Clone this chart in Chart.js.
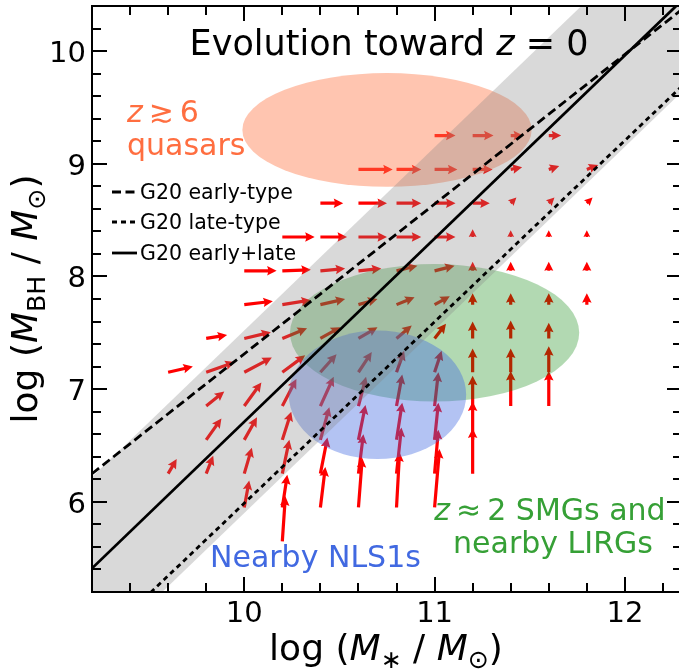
<!DOCTYPE html>
<html lang="en">
<head>
    <meta charset="UTF-8">
    <title>BH mass vs stellar mass evolution</title>
    <script src="https://cdn.jsdelivr.net/npm/chart.js"></script>
    <style>
        html, body { margin: 0; padding: 0; background: #fff; overflow: hidden; }
        #chart { display: block; }
    </style>
</head>
<body>
    <canvas id="chart" width="684" height="671"></canvas>

    <script>
        // axis ranges and ticks
        const xRange = [9.2, 12.3];
        const yRange = [5.2, 10.4];
        const xMajor = [10, 11, 12];
        const yMajor = [6, 7, 8, 9, 10];
        const xMinor = [9.4, 9.6, 9.8, 10.2, 10.4, 10.6, 10.8, 11.2, 11.4, 11.6, 11.8, 12.2];
        const yMinor = [5.4, 5.6, 5.8, 6.2, 6.4, 6.6, 6.8, 7.2, 7.4, 7.6, 7.8, 8.2, 8.4, 8.6, 8.8, 9.2, 9.4, 9.6, 9.8, 10.2];

        // G20 relations (end points) and the scatter band around early+late
        const lineX = [9.2, 12.3];
        const earlyY = [6.25, 10.37];
        const lateY = [4.70, 9.69];
        const allY = [5.41, 10.45];
        const bandUpper = [6.22, 11.26];
        const bandLower = [4.60, 9.64];

        // regions: centre x, centre y, half width, half height
        const regionNames = ['quasars', 'smgs', 'nls1'];
        const regionCx = [10.75, 11.0, 10.7];
        const regionCy = [9.3, 7.5, 6.95];
        const regionRx = [0.76, 0.76, 0.466];
        const regionRy = [0.505, 0.61, 0.57];
        const regionFill = ['rgba(255,127,80,0.45)', 'rgba(0,128,0,0.3)', 'rgba(65,105,225,0.4)'];

        // evolution vectors: tail position (x, y) and step (u, v)
        const arrowX = [
            10.2,
            10.0, 10.2, 10.4, 10.6, 10.8, 11.0,
            9.6, 9.8, 10.0, 10.2, 10.4, 10.6, 10.8, 11.0, 11.2,
            9.8, 10.0, 10.2, 10.4, 10.6, 10.8, 11.0, 11.2,
            9.8, 10.0, 10.2, 10.4, 10.6, 10.8, 11.0, 11.2, 11.4, 11.6,
            9.6, 9.8, 10.0, 10.2, 10.4, 10.6, 10.8, 11.0, 11.2, 11.4, 11.6,
            9.8, 10.0, 10.2, 10.4, 10.6, 10.8, 11.0, 11.2, 11.4, 11.6,
            10.0, 10.2, 10.4, 10.6, 10.8, 11.0, 11.2, 11.4, 11.6, 11.8,
            10.0, 10.2, 10.4, 10.6, 10.8, 11.0, 11.2, 11.4, 11.6, 11.8,
            10.2, 10.4, 10.6, 10.8, 11.0, 11.2, 11.4, 11.6, 11.8,
            10.4, 10.6, 10.8, 11.0, 11.2, 11.4, 11.6, 11.8,
            10.6, 10.8, 11.0, 11.2, 11.4, 11.6, 11.8,
            11.0, 11.2, 11.4, 11.6
        ];
        const arrowY = [
            5.65,
            5.95, 5.95, 5.95, 5.95, 5.95, 5.95,
            6.25, 6.25, 6.25, 6.25, 6.25, 6.25, 6.25, 6.25, 6.25,
            6.55, 6.55, 6.55, 6.55, 6.55, 6.55, 6.55, 6.55,
            6.85, 6.85, 6.85, 6.85, 6.85, 6.85, 6.85, 6.85, 6.85, 6.85,
            7.15, 7.15, 7.15, 7.15, 7.15, 7.15, 7.15, 7.15, 7.15, 7.15, 7.15,
            7.45, 7.45, 7.45, 7.45, 7.45, 7.45, 7.45, 7.45, 7.45, 7.45,
            7.75, 7.75, 7.75, 7.75, 7.75, 7.75, 7.75, 7.75, 7.75, 7.75,
            8.05, 8.05, 8.05, 8.05, 8.05, 8.05, 8.05, 8.05, 8.05, 8.05,
            8.35, 8.35, 8.35, 8.35, 8.35, 8.35, 8.35, 8.35, 8.35,
            8.65, 8.65, 8.65, 8.65, 8.65, 8.65, 8.65, 8.65,
            8.95, 8.95, 8.95, 8.95, 8.95, 8.95, 8.95,
            9.25, 9.25, 9.25, 9.25
        ];
        const arrowU = [
            0.016,
            0.026, 0.026, 0.026, 0.02, 0.016, 0.026,
            0.045, 0.037, 0.04, 0.037, 0.037, 0.026, 0.026, 0.02, 0,
            0.08, 0.067, 0.047, 0.047, 0.037, 0.03, 0.02, 0,
            0.095, 0.09, 0.074, 0.07, 0.04, 0.03, 0.02, 0, 0, 0,
            0.13, 0.15, 0.145, 0.12, 0.085, 0.07, 0.04, 0.037, 0, 0, 0,
            0.11, 0.14, 0.13, 0.105, 0.10, 0.08, 0.06, 0, 0, 0,
            0.15, 0.15, 0.13, 0.10, 0.095, 0.08, 0, 0, 0, 0,
            0.17, 0.15, 0.13, 0.12, 0.11, 0.105, 0, 0, 0, 0,
            0.17, 0.14, 0.15, 0.13, 0.11, 0, 0, 0, 0,
            0.12, 0.15, 0.13, 0.11, 0.09, 0.03, 0.03, 0.03,
            0.18, 0.13, 0.12, 0.105, 0.06, 0.055, 0.06,
            0.11, 0.11, 0.065, 0.065
        ];
        const arrowV = [
            0.40,
            0.24, 0.29, 0.36, 0.44, 0.49, 0.52,
            0.13, 0.16, 0.23, 0.30, 0.32, 0.35, 0.41, 0.39, 0.40,
            0.19, 0.20, 0.25, 0.29, 0.31, 0.33, 0.33, 0.34,
            0.13, 0.21, 0.24, 0.26, 0.26, 0.28, 0.30, 0.27, 0.31, 0.31,
            0.05, 0.09, 0.13, 0.15, 0.16, 0.18, 0.19, 0.19, 0.21, 0.21, 0.23,
            0.03, 0.055, 0.09, 0.10, 0.10, 0.115, 0.13, 0.15, 0.16, 0.14,
            0.03, 0.04, 0.05, 0.05, 0.065, 0.075, 0.10, 0.10, 0.10, 0.10,
            0, 0.01, 0.02, 0.02, 0.045, 0.045, 0.08, 0.08, 0.08, 0.08,
            0, 0, 0, 0, 0, 0.07, 0.06, 0.06, 0.06,
            0, 0, 0, 0, 0, 0.05, 0.05, 0.05,
            0, 0, 0, 0, 0.02, 0.03, 0.04,
            0, 0, 0, 0
        ];

        const FONT = '"DejaVu Sans", sans-serif';

        function pts(ys) {
            return lineX.map((x, i) => ({ x: x, y: ys[i] }));
        }

        // draw one quiver-style arrow in pixel space
        function drawArrow(ctx, x0, y0, x1, y1) {
            const dx = x1 - x0, dy = y1 - y0;
            const L = Math.hypot(dx, dy);
            if (L < 0.5) return;
            let sw = 3.2, hl = 9.5, ha = 8.5, hw = 9.5;
            if (L < hl) {
                const s = L / hl;
                sw *= s; hl *= s; ha *= s; hw *= s;
            }
            ctx.save();
            ctx.translate(x0, y0);
            ctx.rotate(Math.atan2(dy, dx));
            ctx.beginPath();
            ctx.moveTo(0, -sw / 2);
            ctx.lineTo(L - ha, -sw / 2);
            ctx.lineTo(L - hl, -hw / 2);
            ctx.lineTo(L, 0);
            ctx.lineTo(L - hl, hw / 2);
            ctx.lineTo(L - ha, sw / 2);
            ctx.lineTo(0, sw / 2);
            ctx.closePath();
            ctx.fill();
            ctx.restore();
        }

        // text made of pieces: {t, it: italic, sub: subscript}
        function measureRich(ctx, parts, size) {
            let w = 0;
            parts.forEach(p => {
                const s = p.sub ? size * 0.7 : size;
                ctx.font = (p.it ? 'italic ' : '') + s + 'px ' + FONT;
                w += ctx.measureText(p.t).width;
            });
            return w;
        }

        function drawRich(ctx, parts, size, x, y, align, color) {
            const w = measureRich(ctx, parts, size);
            let cx = align === 'center' ? x - w / 2 : (align === 'right' ? x - w : x);
            ctx.fillStyle = color;
            ctx.textAlign = 'left';
            ctx.textBaseline = 'alphabetic';
            parts.forEach(p => {
                const s = p.sub ? size * 0.7 : size;
                ctx.font = (p.it ? 'italic ' : '') + s + 'px ' + FONT;
                ctx.fillText(p.t, cx, y + (p.sub ? size * 0.22 : 0));
                cx += ctx.measureText(p.t).width;
            });
        }

        const layers = {
            id: 'layers',
            beforeDatasetsDraw(chart) {
                const { ctx, chartArea: a, scales: { x, y } } = chart;
                ctx.save();
                ctx.beginPath();
                ctx.rect(a.left, a.top, a.right - a.left, a.bottom - a.top);
                ctx.clip();

                ctx.fillStyle = '#ff0000';
                arrowX.forEach((ax, i) => {
                    drawArrow(ctx,
                        x.getPixelForValue(ax), y.getPixelForValue(arrowY[i]),
                        x.getPixelForValue(ax + arrowU[i]), y.getPixelForValue(arrowY[i] + arrowV[i]));
                });

                regionNames.forEach((n, i) => {
                    const cx = x.getPixelForValue(regionCx[i]);
                    const cy = y.getPixelForValue(regionCy[i]);
                    const rx = Math.abs(x.getPixelForValue(regionCx[i] + regionRx[i]) - cx);
                    const ry = Math.abs(y.getPixelForValue(regionCy[i] + regionRy[i]) - cy);
                    ctx.fillStyle = regionFill[i];
                    ctx.beginPath();
                    ctx.ellipse(cx, cy, rx, ry, 0, 0, Math.PI * 2);
                    ctx.fill();
                });
                ctx.restore();
            },
            afterDraw(chart) {
                const { ctx, chartArea: a, scales: { x, y } } = chart;
                ctx.save();

                // inward ticks on all four sides
                ctx.strokeStyle = '#000';
                ctx.lineWidth = 2;
                const tick = (len, xs, ys) => {
                    xs.forEach(v => {
                        const px = Math.round(x.getPixelForValue(v));
                        ctx.beginPath();
                        ctx.moveTo(px, a.bottom); ctx.lineTo(px, a.bottom - len);
                        ctx.moveTo(px, a.top); ctx.lineTo(px, a.top + len);
                        ctx.stroke();
                    });
                    ys.forEach(v => {
                        const py = Math.round(y.getPixelForValue(v));
                        ctx.beginPath();
                        ctx.moveTo(a.left, py); ctx.lineTo(a.left + len, py);
                        ctx.moveTo(a.right, py); ctx.lineTo(a.right - len, py);
                        ctx.stroke();
                    });
                };
                tick(15, xMajor, yMajor);
                tick(9, xMinor, yMinor);
                ctx.strokeRect(a.left, a.top, a.right - a.left, a.bottom - a.top);

                // tick labels
                xMajor.forEach(v => drawRich(ctx, [{ t: String(v) }], 29, x.getPixelForValue(v), 622, 'center', '#000'));
                yMajor.forEach(v => drawRich(ctx, [{ t: String(v) }], 29, 86, y.getPixelForValue(v) + 11, 'right', '#000'));

                // annotations
                drawRich(ctx, [{ t: 'Evolution toward ' }, { t: 'z', it: true }, { t: ' = 0' }],
                    35, 389, 55, 'center', '#000');
                drawRich(ctx, [{ t: 'z', it: true }, { t: '\u2009\u2273\u20096' }], 30, 127, 122, 'left', '#ff6e40');
                drawRich(ctx, [{ t: 'quasars' }], 30, 127, 155, 'left', '#ff6e40');
                drawRich(ctx, [{ t: 'Nearby NLS1s' }], 30, 210, 567, 'left', '#4169e1');
                drawRich(ctx, [{ t: 'z', it: true }, { t: '\u2009\u2248\u20092 SMGs and' }], 30, 550, 520, 'center', '#36a036');
                drawRich(ctx, [{ t: 'nearby LIRGs' }], 30, 553, 553, 'center', '#36a036');

                // legend
                const legend = [
                    { label: 'G20 early-type', dash: [9, 4.5], yv: 192 },
                    { label: 'G20 late-type', dash: [5, 4], yv: 222 },
                    { label: 'G20 early+late', dash: [], yv: 253 }
                ];
                legend.forEach(l => {
                    ctx.strokeStyle = '#000';
                    ctx.lineWidth = 2.8;
                    ctx.setLineDash(l.dash);
                    ctx.beginPath();
                    ctx.moveTo(112, l.yv); ctx.lineTo(137, l.yv);
                    ctx.stroke();
                    ctx.setLineDash([]);
                    drawRich(ctx, [{ t: l.label }], 20.5, 140, l.yv + 7, 'left', '#000');
                });

                // axis titles
                drawRich(ctx, [{ t: 'log (' }, { t: 'M', it: true }, { t: '\u2217', sub: true },
                    { t: ' / ' }, { t: 'M', it: true }, { t: '\u2299', sub: true }, { t: ')' }],
                    36, 386, 660, 'center', '#000');
                ctx.save();
                ctx.translate(37, (a.top + a.bottom) / 2);
                ctx.rotate(-Math.PI / 2);
                drawRich(ctx, [{ t: 'log (' }, { t: 'M', it: true }, { t: 'BH', sub: true },
                    { t: ' / ' }, { t: 'M', it: true }, { t: '\u2299', sub: true }, { t: ')' }],
                    36, 0, 0, 'center', '#000');
                ctx.restore();

                ctx.restore();
            }
        };

        const lineStyle = { type: 'line', showLine: true, pointRadius: 0, borderColor: '#000', borderWidth: 2.8, fill: false, order: 1 };

        new Chart(document.getElementById('chart'), {
            type: 'scatter',
            data: {
                datasets: [
                    { type: 'line', showLine: true, data: pts(bandUpper), borderWidth: 0, pointRadius: 0,
                      fill: '+1', backgroundColor: 'rgba(128,128,128,0.3)', order: 5 },
                    { type: 'line', showLine: true, data: pts(bandLower), borderWidth: 0, pointRadius: 0,
                      fill: false, order: 5 },
                    Object.assign({ label: 'G20 early-type', data: pts(earlyY), borderDash: [9, 4.5] }, lineStyle),
                    Object.assign({ label: 'G20 late-type', data: pts(lateY), borderDash: [5, 4] }, lineStyle),
                    Object.assign({ label: 'G20 early+late', data: pts(allY) }, lineStyle)
                ]
            },
            options: {
                responsive: false,
                animation: false,
                devicePixelRatio: 1,
                layout: { padding: { top: 6, right: 2, left: 0, bottom: 0 } },
                plugins: { legend: { display: false }, tooltip: { enabled: false } },
                scales: {
                    x: {
                        type: 'linear', min: xRange[0], max: xRange[1],
                        afterFit(s) { s.height = 79; s.paddingLeft = 0; s.paddingRight = 0; },
                        grid: { display: false, drawTicks: false },
                        border: { display: false },
                        ticks: { display: false }
                    },
                    y: {
                        type: 'linear', min: yRange[0], max: yRange[1],
                        afterFit(s) { s.width = 92; s.paddingTop = 0; s.paddingBottom = 0; },
                        grid: { display: false, drawTicks: false },
                        border: { display: false },
                        ticks: { display: false }
                    }
                }
            },
            plugins: [layers]
        });
    </script>
</body>
</html>
